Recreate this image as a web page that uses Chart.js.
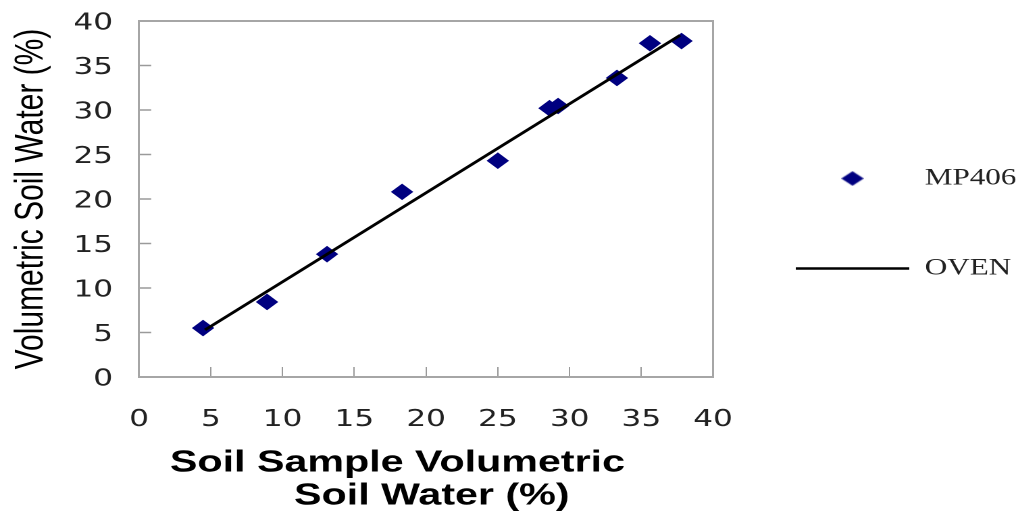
<!DOCTYPE html>
<html><head><meta charset="utf-8">
<script src="https://cdn.jsdelivr.net/npm/chart.js@4.4.1/dist/chart.umd.min.js"></script>
<style>
html,body{margin:0;padding:0;background:#fff;overflow:hidden;}
#wrap{width:752px;height:514px;transform:scaleX(1.351064);transform-origin:0 0;}
</style></head>
<body><div id="wrap"><canvas id="c" width="752" height="514"></canvas></div>
<script>
// ---- data ----
const seriesNames = ['MP406', 'OVEN'];
const sampleX = [4.46, 8.92, 13.1, 18.33, 25.0, 28.6, 29.2, 33.3, 35.6, 37.8];
const mp406Y  = [5.5, 8.43, 13.8, 20.8, 24.3, 30.2, 30.45, 33.6, 37.5, 37.75];
const ovenX   = [4.6, 37.7];
const ovenY   = [5.3, 38.4];
const xTickValues = [0, 5, 10, 15, 20, 25, 30, 35, 40];
const yTickValues = [0, 5, 10, 15, 20, 25, 30, 35, 40];
const xTitleLines = ['Soil Sample Volumetric     ', ' Soil Water (%)'];
const yTitleText = 'Volumetric Soil Water (%)';

// legend diamond marker
const diamond = document.createElement('canvas');
diamond.width = 17; diamond.height = 15;
(function(){
  const g = diamond.getContext('2d');
  g.fillStyle = '#000080';
  g.beginPath();
  g.moveTo(8.5, 0.3); g.lineTo(16.8, 7.5); g.lineTo(8.5, 14.7); g.lineTo(0.2, 7.5);
  g.closePath(); g.fill();
})();

const axisGrey = '#a6a6a6';
const tickGrey = '#9a9a9a';

new Chart(document.getElementById('c'), {
  type: 'scatter',
  data: {
    datasets: [
      {
        type: 'line',
        label: seriesNames[1],
        data: ovenX.map((x, i) => ({x: x, y: ovenY[i]})),
        showLine: true,
        borderColor: '#000',
        borderWidth: 2.6,
        pointRadius: 0,
        pointHoverRadius: 0,
        pointStyle: 'line',
        pointBorderColor: '#000',
        pointBorderWidth: 2.6,
        fill: false,
        xAxisID: 'x', yAxisID: 'y'
      },
      {
        label: seriesNames[0],
        data: sampleX.map((x, i) => ({x: x, y: mp406Y[i]})),
        pointStyle: 'rectRot',
        pointRadius: 7.6,
        pointHoverRadius: 7.6,
        backgroundColor: '#000080',
        borderColor: '#000080',
        borderWidth: 1,
        xAxisID: 'x', yAxisID: 'y'
      }
    ]
  },
  options: {
    responsive: false,
    animation: false,
    devicePixelRatio: 2,
    layout: {padding: 0},
    plugins: {
      tooltip: {enabled: false},
      title: {display: false},
      legend: {
        display: true,
        position: 'right',
        align: 'center',
        maxWidth: 163,
        labels: {
          usePointStyle: true,
          pointStyleWidth: 84,
          boxHeight: 10,
          padding: 0,
          color: '#222',
          font: {family: 'Liberation Serif', size: 23, lineHeight: '90px'},
          generateLabels: function(chart) {
            const items = Chart.defaults.plugins.legend.labels.generateLabels(chart);
            items.reverse();
            return items.map(it => Object.assign(it, {
              text: [it.text],
              pointStyle: it.pointStyle === 'rectRot' ? diamond : it.pointStyle
            }));
          }
        }
      }
    },
    scales: {
      x: {
        type: 'linear', axis: 'x', position: 'bottom', min: 0, max: 40,
        afterBuildTicks: s => { s.ticks = xTickValues.map(v => ({value: v})); },
        afterFit: s => { s.height = 137; },
        ticks: {font: {family: 'DejaVu Sans', size: 23}, color: '#222', padding: 39.2, maxRotation: 0, autoSkip: false},
        grid: {drawOnChartArea: false, drawTicks: true, tickLength: -10, tickColor: tickGrey, tickWidth: 1},
        border: {display: true, color: axisGrey, width: 2},
        title: {display: true, text: xTitleLines, color: '#000',
          font: {family: 'Liberation Sans', size: 30.5, weight: 'bold', lineHeight: '33px'},
          padding: {top: 0, bottom: 1.5}}
      },
      y: {
        type: 'linear', axis: 'y', position: 'left', min: 0, max: 40,
        afterBuildTicks: s => { s.ticks = yTickValues.map(v => ({value: v})); },
        afterFit: s => { s.width = 102.9; s.paddingTop = 14; s.paddingBottom = 14; },
        ticks: {font: {family: 'DejaVu Sans', size: 23}, color: '#222', padding: 28.3, labelOffset: 2.5, autoSkip: false},
        grid: {drawOnChartArea: false, drawTicks: true, tickLength: -9, tickColor: tickGrey, tickWidth: 1.5},
        border: {display: true, color: axisGrey, width: 1.5},
        title: {display: true, text: yTitleText, color: '#000',
          font: {family: 'Liberation Sans', size: 30, weight: 'normal', lineHeight: 1.2},
          padding: {top: 5, bottom: 0}}
      },
      x2: {
        type: 'linear', axis: 'x', position: 'top', min: 0, max: 40,
        afterFit: s => { s.height = 21; },
        ticks: {display: false},
        grid: {display: false},
        border: {display: true, color: axisGrey, width: 2}
      },
      y2: {
        type: 'linear', axis: 'y', position: 'right', min: 0, max: 40,
        afterFit: s => { s.width = 61.2; s.paddingTop = 0; s.paddingBottom = 0; },
        ticks: {display: false},
        grid: {display: false},
        border: {display: true, color: axisGrey, width: 1.5}
      }
    }
  }
});
</script>
</body></html>
